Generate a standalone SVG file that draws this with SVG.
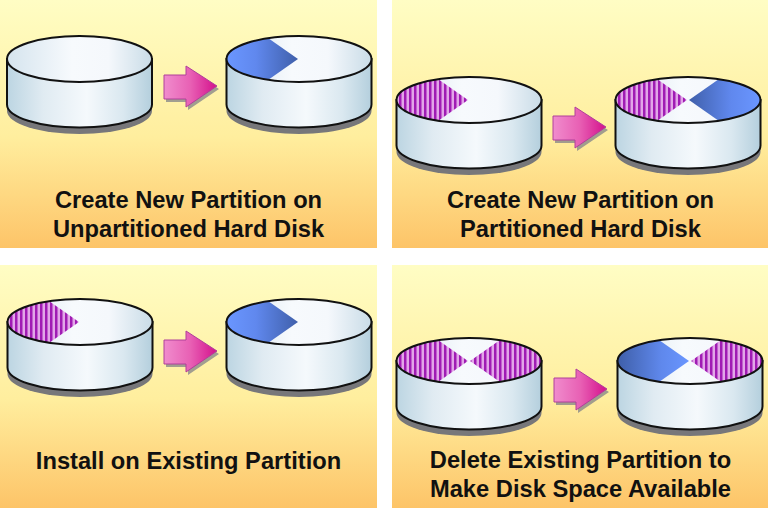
<svg xmlns="http://www.w3.org/2000/svg" width="768" height="518" viewBox="0 0 768 518">
<style>
.bg{fill:url(#bgGrad)}
.t{font-family:"Liberation Sans",Arial,sans-serif;font-weight:700;font-size:23.7px;fill:#111;text-anchor:middle}
.out{stroke:#111;stroke-width:2;fill:none}
</style>
<defs>
<linearGradient id="bgGrad" x1="0" y1="0" x2="0" y2="1">
<stop offset="0" stop-color="#fffdc4"/><stop offset="0.55" stop-color="#ffee9e"/><stop offset="1" stop-color="#fdc468"/>
</linearGradient>
<linearGradient id="side" x1="0" y1="0" x2="1" y2="0">
<stop offset="0" stop-color="#bcd5e2"/><stop offset="0.25" stop-color="#e0ebf2"/><stop offset="0.55" stop-color="#f5f9fc"/><stop offset="0.8" stop-color="#dae8f0"/><stop offset="1" stop-color="#b4cfdd"/>
</linearGradient>
<linearGradient id="top" x1="0" y1="0" x2="1" y2="0">
<stop offset="0" stop-color="#d5e4ee"/><stop offset="0.45" stop-color="#f7fafd"/><stop offset="0.7" stop-color="#f5f8fc"/><stop offset="1" stop-color="#c9dce7"/>
</linearGradient>
<linearGradient id="blueL" gradientUnits="userSpaceOnUse" x1="-72" y1="0" x2="0" y2="0">
<stop offset="0" stop-color="#6a96ff"/><stop offset="0.4" stop-color="#6088ee"/><stop offset="1" stop-color="#3f5fa9"/>
</linearGradient>
<linearGradient id="blueR" gradientUnits="userSpaceOnUse" x1="0" y1="0" x2="72" y2="0">
<stop offset="0" stop-color="#3f5fa9"/><stop offset="0.6" stop-color="#6088ee"/><stop offset="1" stop-color="#6a96ff"/>
</linearGradient>
<linearGradient id="blueD" gradientUnits="userSpaceOnUse" x1="-72" y1="0" x2="0" y2="0">
<stop offset="0" stop-color="#3f5fa9"/><stop offset="0.6" stop-color="#5f88ec"/><stop offset="1" stop-color="#6a96ff"/>
</linearGradient>
<linearGradient id="arrowGrad" x1="0" y1="0" x2="1" y2="0">
<stop offset="0" stop-color="#f08ccd"/><stop offset="0.5" stop-color="#e860b4"/><stop offset="1" stop-color="#d4108c"/>
</linearGradient>
<pattern id="stripes" patternUnits="userSpaceOnUse" width="5" height="5">
<rect width="5" height="5" fill="#e2a6e8"/><rect width="2.500" height="5" fill="#a01cb4"/>
</pattern>
<clipPath id="topClip"><ellipse rx="72.5" ry="23"/></clipPath>
<g id="disk">
<path d="M-72.5 3V48A72.5 23 0 0 0 72.5 48V3Z" transform="translate(0,4)" fill="#77777a"/>
<path d="M-72.5 0V45.500A72.5 23 0 0 0 72.500 45.500V0Z" fill="url(#side)" stroke="#111" stroke-width="2"/>
<ellipse rx="72.5" ry="23" fill="url(#top)"/>
</g>
<ellipse id="rim" class="out" rx="72.5" ry="23"/>
<path id="wedgeL" d="M-1 0L-41-28H-80V28H-41Z" clip-path="url(#topClip)"/>
<path id="wedgeR" d="M1 0L41-28H80V28H41Z" clip-path="url(#topClip)"/>
<g id="arrow">
<path d="M0 9H22V0L53 20 22 41V33H0Z" transform="translate(2,3)" fill="#8a8a8a" opacity=".8"/>
<path d="M0 9H22V0L53 20 22 41V33H0Z" fill="url(#arrowGrad)" stroke="#b0409a" stroke-width="1"/>
</g>
</defs>

<g id="panel-1">
<rect class="bg" x="0" y="0" width="377" height="248"/>
<text class="t" x="188.500" y="208">Create New Partition on</text>
<text class="t" x="188.500" y="237">Unpartitioned Hard Disk</text>
</g>
<g id="panel-2">
<rect class="bg" x="392" y="0" width="376" height="248"/>
<text class="t" x="580.500" y="208">Create New Partition on</text>
<text class="t" x="580.500" y="237">Partitioned Hard Disk</text>
</g>
<g id="panel-3">
<rect class="bg" x="0" y="265" width="377" height="243"/>
<text class="t" x="188.500" y="469">Install on Existing Partition</text>
</g>
<g id="panel-4">
<rect class="bg" x="392" y="265" width="376" height="243"/>
<text class="t" x="580.500" y="468">Delete Existing Partition to</text>
<text class="t" x="580.500" y="497">Make Disk Space Available</text>
</g>

<g id="disk-1" transform="translate(79.500,59)"><use href="#disk"/><use href="#rim"/></g>
<g id="disk-2" transform="translate(299,59)"><use href="#disk"/><use href="#wedgeL" fill="url(#blueL)"/><use href="#rim"/></g>
<g id="disk-3" transform="translate(469,100)"><use href="#disk"/><use href="#wedgeL" fill="url(#stripes)"/><use href="#rim"/></g>
<g id="disk-4" transform="translate(688,100)"><use href="#disk"/><use href="#wedgeL" fill="url(#stripes)"/><use href="#wedgeR" fill="url(#blueR)"/><use href="#rim"/></g>
<g id="disk-5" transform="translate(80,322)"><use href="#disk"/><use href="#wedgeL" fill="url(#stripes)"/><use href="#rim"/></g>
<g id="disk-6" transform="translate(299,322)"><use href="#disk"/><use href="#wedgeL" fill="url(#blueL)"/><use href="#rim"/></g>
<g id="disk-7" transform="translate(469,361)"><use href="#disk"/><use href="#wedgeL" fill="url(#stripes)"/><use href="#wedgeR" fill="url(#stripes)"/><use href="#rim"/></g>
<g id="disk-8" transform="translate(690,361)"><use href="#disk"/><use href="#wedgeL" fill="url(#blueD)"/><use href="#wedgeR" fill="url(#stripes)"/><use href="#rim"/></g>

<g id="connectors">
<use href="#arrow" x="164" y="66"/>
<use href="#arrow" x="553" y="107"/>
<use href="#arrow" x="164" y="331"/>
<use href="#arrow" x="554" y="369"/>
</g>
</svg>
